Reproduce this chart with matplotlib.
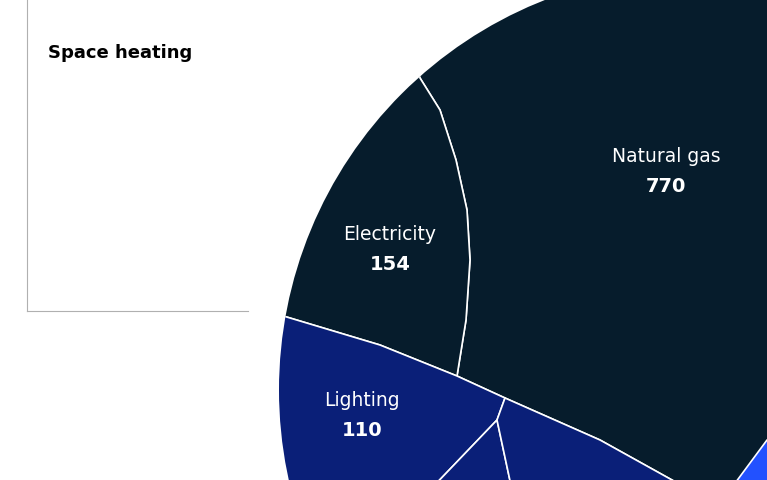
import matplotlib.pyplot as plt
from matplotlib.patches import Polygon, Circle

# cell values and labels
labels = ["Natural gas", "Electricity", "Lighting"]
values = [770, 154, 110]
label_xy = [(666, 157), (390, 234), (362, 401)]

# Voronoi-style cells (pixel space of the original layout)
circle_center = (698, 390)
circle_r = 419
cells = {
    "gas": [(420, 78), (440, 110), (456, 160), (467, 210), (470, 260), (466, 320), (457, 376),
            (505, 398), (600, 440), (690, 490), (800, 490), (800, -20), (380, -20)],
    "elec": [(250, -20), (380, -20), (420, 78), (440, 110), (456, 160), (467, 210), (470, 260),
             (466, 320), (457, 376), (380, 345), (280, 315), (250, 300)],
    "light": [(250, 300), (280, 315), (380, 345), (457, 376), (505, 398), (497, 420),
              (430, 490), (250, 490)],
    "b2": [(497, 420), (430, 490), (512, 490)],
    "b3": [(505, 398), (600, 440), (690, 490), (512, 490), (497, 420)],
    "b4": [(767, 440), (800, 430), (800, 490), (730, 490)],
}
colors = {"gas": "#061c2c", "elec": "#061c2c", "light": "#0a1f78",
          "b2": "#0a1f78", "b3": "#0a1f78", "b4": "#2251ff"}

fig = plt.figure(figsize=(7.67, 4.8), dpi=100)
ax = fig.add_axes([0, 0, 1, 1])
ax.set_xlim(0, 767)
ax.set_ylim(480, 0)
ax.axis("off")

clip = Circle(circle_center, circle_r, transform=ax.transData)
for k, pts in cells.items():
    p = Polygon(pts, closed=True, facecolor=colors[k], edgecolor="white", linewidth=1.2)
    ax.add_patch(p)
    p.set_clip_path(clip)

for lab, v, (x, y) in zip(labels, values, label_xy):
    ax.text(x, y, lab, color="white", fontsize=13.5, ha="center", va="center")
    ax.text(x, y + 30, str(v), color="white", fontsize=14, fontweight="bold",
            ha="center", va="center")

# side panel
ax.plot([27, 27], [0, 311], color="#b0b0b0", linewidth=0.8)
ax.plot([27, 248], [311, 311], color="#b0b0b0", linewidth=0.8)
ax.text(48, 53, "Space heating", fontsize=13, fontweight="bold", color="black",
        ha="left", va="center")

fig.savefig("out.png", dpi=100)
